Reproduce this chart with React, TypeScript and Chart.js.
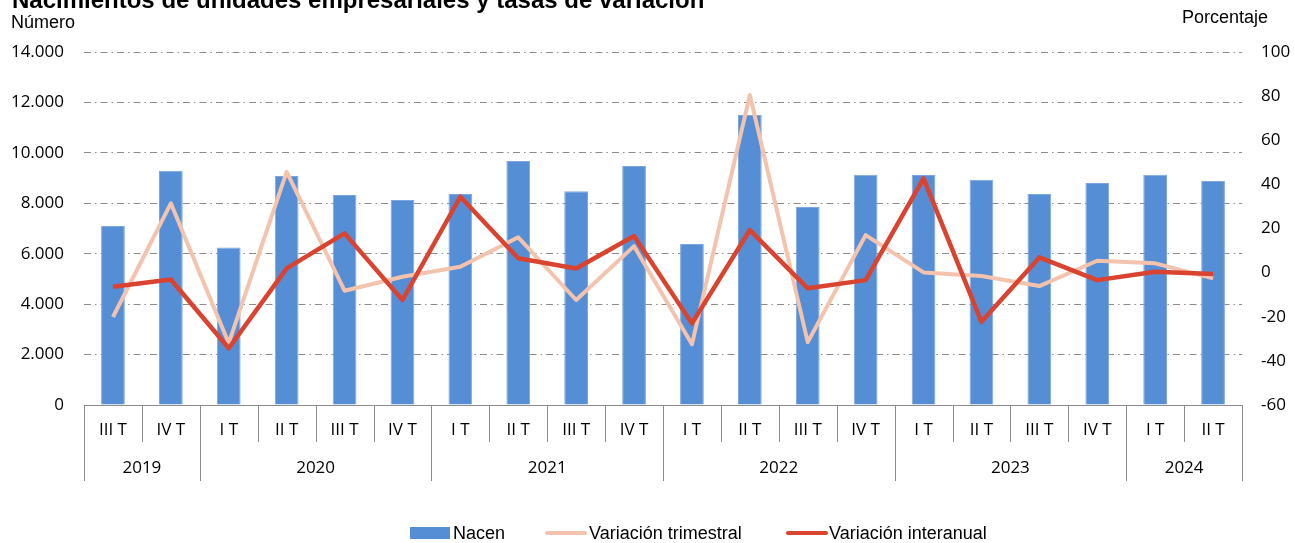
import React, { useEffect, useRef } from "react";
import { Chart, registerables } from "chart.js";

Chart.register(...registerables);

const quarters = ["III T", "IV T", "I T", "II T", "III T", "IV T", "I T", "II T", "III T", "IV T", "I T", "II T", "III T", "IV T", "I T", "II T", "III T", "IV T", "I T", "II T"];
const years = ["2019", "2020", "2021", "2022", "2023", "2024"];
const yearSpans = [2, 4, 4, 4, 4, 2];

const nacen = [7100, 9290, 6250, 9080, 8330, 8130, 8370, 9680, 8480, 9480, 6390, 11500, 7850, 9130, 9120, 8930, 8370, 8800, 9130, 8880];
const varTrimestral = [-20.1, 31.4, -32, 45.7, -8.2, -1.9, 2.7, 16, -12.4, 12, -32.5, 80.5, -31.5, 17, 0.1, -1.5, -6.1, 5.4, 4.2, -2.6];
const varInteranual = [-6.4, -3.1, -34.3, 1.9, 17.8, -12.4, 34.4, 6.5, 1.9, 16.6, -23, 19.3, -7.1, -3.4, 42.7, -22.3, 6.9, -3.4, 0.4, -0.6];

const leftMin = 0;
const leftMax = 14000;
const leftStep = 2000;
const rightMin = -60;
const rightMax = 100;
const rightStep = 20;

const titleText = "Nacimientos de unidades empresariales y tasas de variación";
const leftTitle = "Número";
const rightTitle = "Porcentaje";
const legendLabels = ["Nacen", "Variación trimestral", "Variación interanual"];

const BLUE = "#558ED5";
const LIGHT = "#F4C3AD";
const RED = "#D9432F";
const GRID = "#8C8C8C";
const TICK_FONT = "'Open Sans', sans-serif";
const TEXT_FONT = "'Liberation Sans', Arial, sans-serif";
const DASH = [7, 4, 1.5, 4];

function fmt(v: number): string {
  const s = Math.round(v).toString();
  return s.replace(/\B(?=(\d{3})+(?!\d))/g, ".");
}

const decorPlugin = {
  id: "decor",
  beforeDatasetsDraw(chart: any) {
    const { ctx, chartArea } = chart;
    const x = chart.scales.x;
    const n = quarters.length;
    const half = (x.getPixelForValue(1) - x.getPixelForValue(0)) / 2;
    const axisY = chartArea.bottom;
    ctx.save();
    ctx.strokeStyle = GRID;
    ctx.lineWidth = 1;
    ctx.beginPath();
    ctx.moveTo(chartArea.left, axisY + 0.5);
    ctx.lineTo(chartArea.right, axisY + 0.5);
    ctx.stroke();
    const yearStarts = new Set<number>();
    let acc = 0;
    yearStarts.add(0);
    yearSpans.forEach((s) => {
      acc += s;
      yearStarts.add(acc);
    });
    for (let i = 0; i <= n; i++) {
      const bx = Math.round(i < n ? x.getPixelForValue(i) - half : x.getPixelForValue(n - 1) + half) + 0.5;
      const endY = yearStarts.has(i) ? axisY + 76 : axisY + 37;
      ctx.beginPath();
      ctx.moveTo(bx, axisY);
      ctx.lineTo(bx, endY);
      ctx.stroke();
    }
    ctx.fillStyle = "#000";
    ctx.font = `17px ${TICK_FONT}`;
    ctx.textAlign = "center";
    ctx.textBaseline = "middle";
    quarters.forEach((q, i) => {
      ctx.fillText(q, x.getPixelForValue(i), axisY + 25);
    });
    let start = 0;
    years.forEach((yv, j) => {
      const s = yearSpans[j];
      const cx = (x.getPixelForValue(start) + x.getPixelForValue(start + s - 1)) / 2;
      ctx.fillText(yv, cx, axisY + 63);
      start += s;
    });
    ctx.restore();
  },
  afterDraw(chart: any) {
    const { ctx } = chart;
    ctx.save();
    ctx.fillStyle = "#000";
    ctx.textBaseline = "alphabetic";
    ctx.textAlign = "left";
    ctx.font = `bold 24px ${TEXT_FONT}`;
    ctx.fillText(titleText, 12, 8);
    ctx.font = `18px ${TEXT_FONT}`;
    ctx.fillText(leftTitle, 11, 28);
    ctx.fillText(rightTitle, 1182, 23);
    ctx.font = `18px ${TEXT_FONT}`;
    ctx.textBaseline = "middle";
    const ly = 533;
    ctx.fillStyle = BLUE;
    ctx.fillRect(410, ly - 6, 40, 12);
    ctx.fillStyle = "#000";
    ctx.fillText(legendLabels[0], 453, ly + 1);
    ctx.strokeStyle = LIGHT;
    ctx.lineWidth = 4;
    ctx.lineCap = "round";
    ctx.beginPath();
    ctx.moveTo(547, ly);
    ctx.lineTo(585, ly);
    ctx.stroke();
    ctx.fillText(legendLabels[1], 589, ly + 1);
    ctx.strokeStyle = RED;
    ctx.beginPath();
    ctx.moveTo(788, ly);
    ctx.lineTo(826, ly);
    ctx.stroke();
    ctx.fillText(legendLabels[2], 829, ly + 1);
    ctx.restore();
  },
};

export default function App() {
  const ref = useRef<HTMLCanvasElement | null>(null);
  useEffect(() => {
    if (!ref.current) return;
    const chart = new Chart(ref.current, {
      type: "bar",
      data: {
        labels: quarters,
        datasets: [
          {
            type: "line",
            label: legendLabels[2],
            data: varInteranual,
            yAxisID: "y1",
            borderColor: RED,
            backgroundColor: RED,
            borderWidth: 4.5,
            pointRadius: 0,
            tension: 0,
            borderJoinStyle: "round",
            order: 1,
          },
          {
            type: "line",
            label: legendLabels[1],
            data: varTrimestral,
            yAxisID: "y1",
            borderColor: LIGHT,
            backgroundColor: LIGHT,
            borderWidth: 4,
            pointRadius: 0,
            tension: 0,
            borderJoinStyle: "round",
            order: 2,
          },
          {
            type: "bar",
            label: legendLabels[0],
            data: nacen,
            yAxisID: "y",
            backgroundColor: BLUE,
            borderColor: "#7FA6DC",
            borderWidth: 1,
            barPercentage: 0.41,
            categoryPercentage: 1,
            order: 3,
          },
        ],
      } as any,
      options: {
        responsive: false,
        devicePixelRatio: 1,
        animation: false,
        layout: { padding: { top: 52, bottom: 138, left: 0, right: 0 } },
        plugins: { legend: { display: false }, tooltip: { enabled: false }, title: { display: false } },
        scales: {
          x: { display: false, offset: true },
          y: {
            position: "left",
            min: leftMin,
            max: leftMax,
            border: { display: false, dash: DASH },
            grid: {
              drawTicks: false,
              color: (c: any) => (c.tick && c.tick.value === 0 ? "rgba(0,0,0,0)" : GRID),
              lineWidth: 1,
            },
            ticks: {
              stepSize: leftStep,
              padding: 20,
              color: "#000",
              font: { family: TICK_FONT, size: 17 },
              callback: (v: any) => fmt(Number(v)),
            },
            afterFit: (s: any) => {
              s.width = 84;
            },
          },
          y1: {
            position: "right",
            min: rightMin,
            max: rightMax,
            border: { display: false },
            grid: { display: false, drawTicks: false },
            ticks: {
              stepSize: rightStep,
              padding: 19,
              color: "#000",
              font: { family: TICK_FONT, size: 17 },
            },
            afterFit: (s: any) => {
              s.width = 53;
            },
          },
        },
      } as any,
      plugins: [decorPlugin],
    });
    return () => chart.destroy();
  }, []);
  return (
    <div style={{ position: "absolute", left: 0, top: 0, width: 1295, height: 543, background: "#fff" }}>
      <canvas ref={ref} width={1295} height={543} />
    </div>
  );
}
